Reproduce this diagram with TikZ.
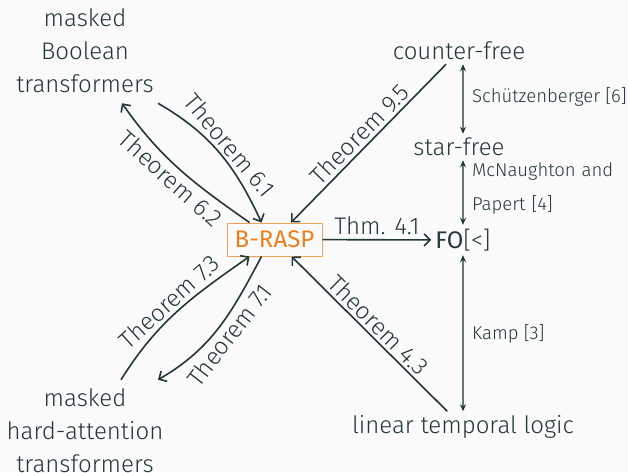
\documentclass[tikz,border=0pt]{standalone}
\usepackage{fontspec}
\setmainfont{Fira Sans Light}
\newfontfamily\firaregular{Fira Sans}
\usetikzlibrary{arrows.meta}
\definecolor{mDark}{HTML}{23373B}
\definecolor{mOrange}{HTML}{EB811B}
\definecolor{mBoxline}{HTML}{F0A255}
\definecolor{mBg}{HTML}{FAFAFA}
\definecolor{mGray}{HTML}{65777A}
\begin{document}
\begin{tikzpicture}[x=1pt,y=1pt,
  every node/.style={text=mDark, font=\fontsize{24}{33}\selectfont, inner sep=4pt},
  tip/.tip={Straight Barb[length=6pt,width=12pt,line width=1.6pt]},
  main/.style={draw=mDark, line width=1.6pt, -tip},
  mainback/.style={draw=mDark, line width=1.6pt, tip-},
  vtip/.tip={Stealth[length=7pt,width=6pt,color=mDark]},
  vert/.style={draw=mGray, line width=1.1pt, vtip-vtip},
  smalllabel/.style={font=\fontsize{18.5}{34}\selectfont, anchor=west, inner sep=0pt},
  lab/.style={sloped, inner sep=3pt}
]
\fill[mBg] (0,0) rectangle (628,-472);
\useasboundingbox (0,0) rectangle (628,-472);

\node[align=center] (mbt) at (85,-51) {masked\\Boolean\\transformers};
\node[align=center] (mhat) at (85,-431) {masked\\hard-attention\\transformers};
\node[draw=mBoxline, line width=1pt, text=mOrange, font=\fontsize{24}{33}\firaregular, minimum width=95pt, minimum height=33pt, inner sep=0pt] (brasp) at (274.5,-239.5) {B-RASP};
\node (fo) at (463,-240) {{\firaregular FO}[<]};
\node (cf) at (459,-51) {counter-free};
\node (sf) at (459,-147) {star-free};
\node (ltl) at (463,-427) {linear temporal logic};

% straight connectors
\draw[main] (brasp) -- node[above=4pt, inner sep=0pt]{Thm. 4.1} (fo);
\draw[mainback] (brasp) -- node[lab, above]{Theorem 9.5} (cf);
\draw[mainback] (brasp) -- node[lab, above]{Theorem 4.3} (ltl);

% curved connectors
\draw[main] ([shift={(73pt,-6pt)}]mbt.south) to[out=-30,in=115] node[lab, above]{Theorem 6.1} ([xshift=35pt]brasp.north west);
\draw[main] ([xshift=23pt]brasp.north west) to[out=145,in=-55] node[lab, below]{Theorem 6.2} ([shift={(37pt,-6pt)}]mbt.south);
\draw[main] ([shift={(36pt,5pt)}]mhat.north) to[out=58,in=215] node[lab, above]{Theorem 7.3} ([xshift=23pt]brasp.south west);
\draw[main] ([xshift=35pt]brasp.south west) to[out=242,in=30] node[lab, below]{Theorem 7.1} ([shift={(73pt,5pt)}]mhat.north);

% vertical equivalences
\draw[vert] (cf.south -| fo) -- (sf.north -| fo);
\draw[vert] (sf.south -| fo) -- (fo.north);
\draw[vert] (fo.south) -- (ltl.north -| fo);
\node[smalllabel] (schl) at (472,-97) {Schützenberger [6]};
\node[smalllabel, text width=141pt, align=left] (mnl) at (472,-189) {McNaughton\hfill and\\Papert [4]};
\node[smalllabel] (kl) at (472,-334) {Kamp [3]};
\end{tikzpicture}
\end{document}
